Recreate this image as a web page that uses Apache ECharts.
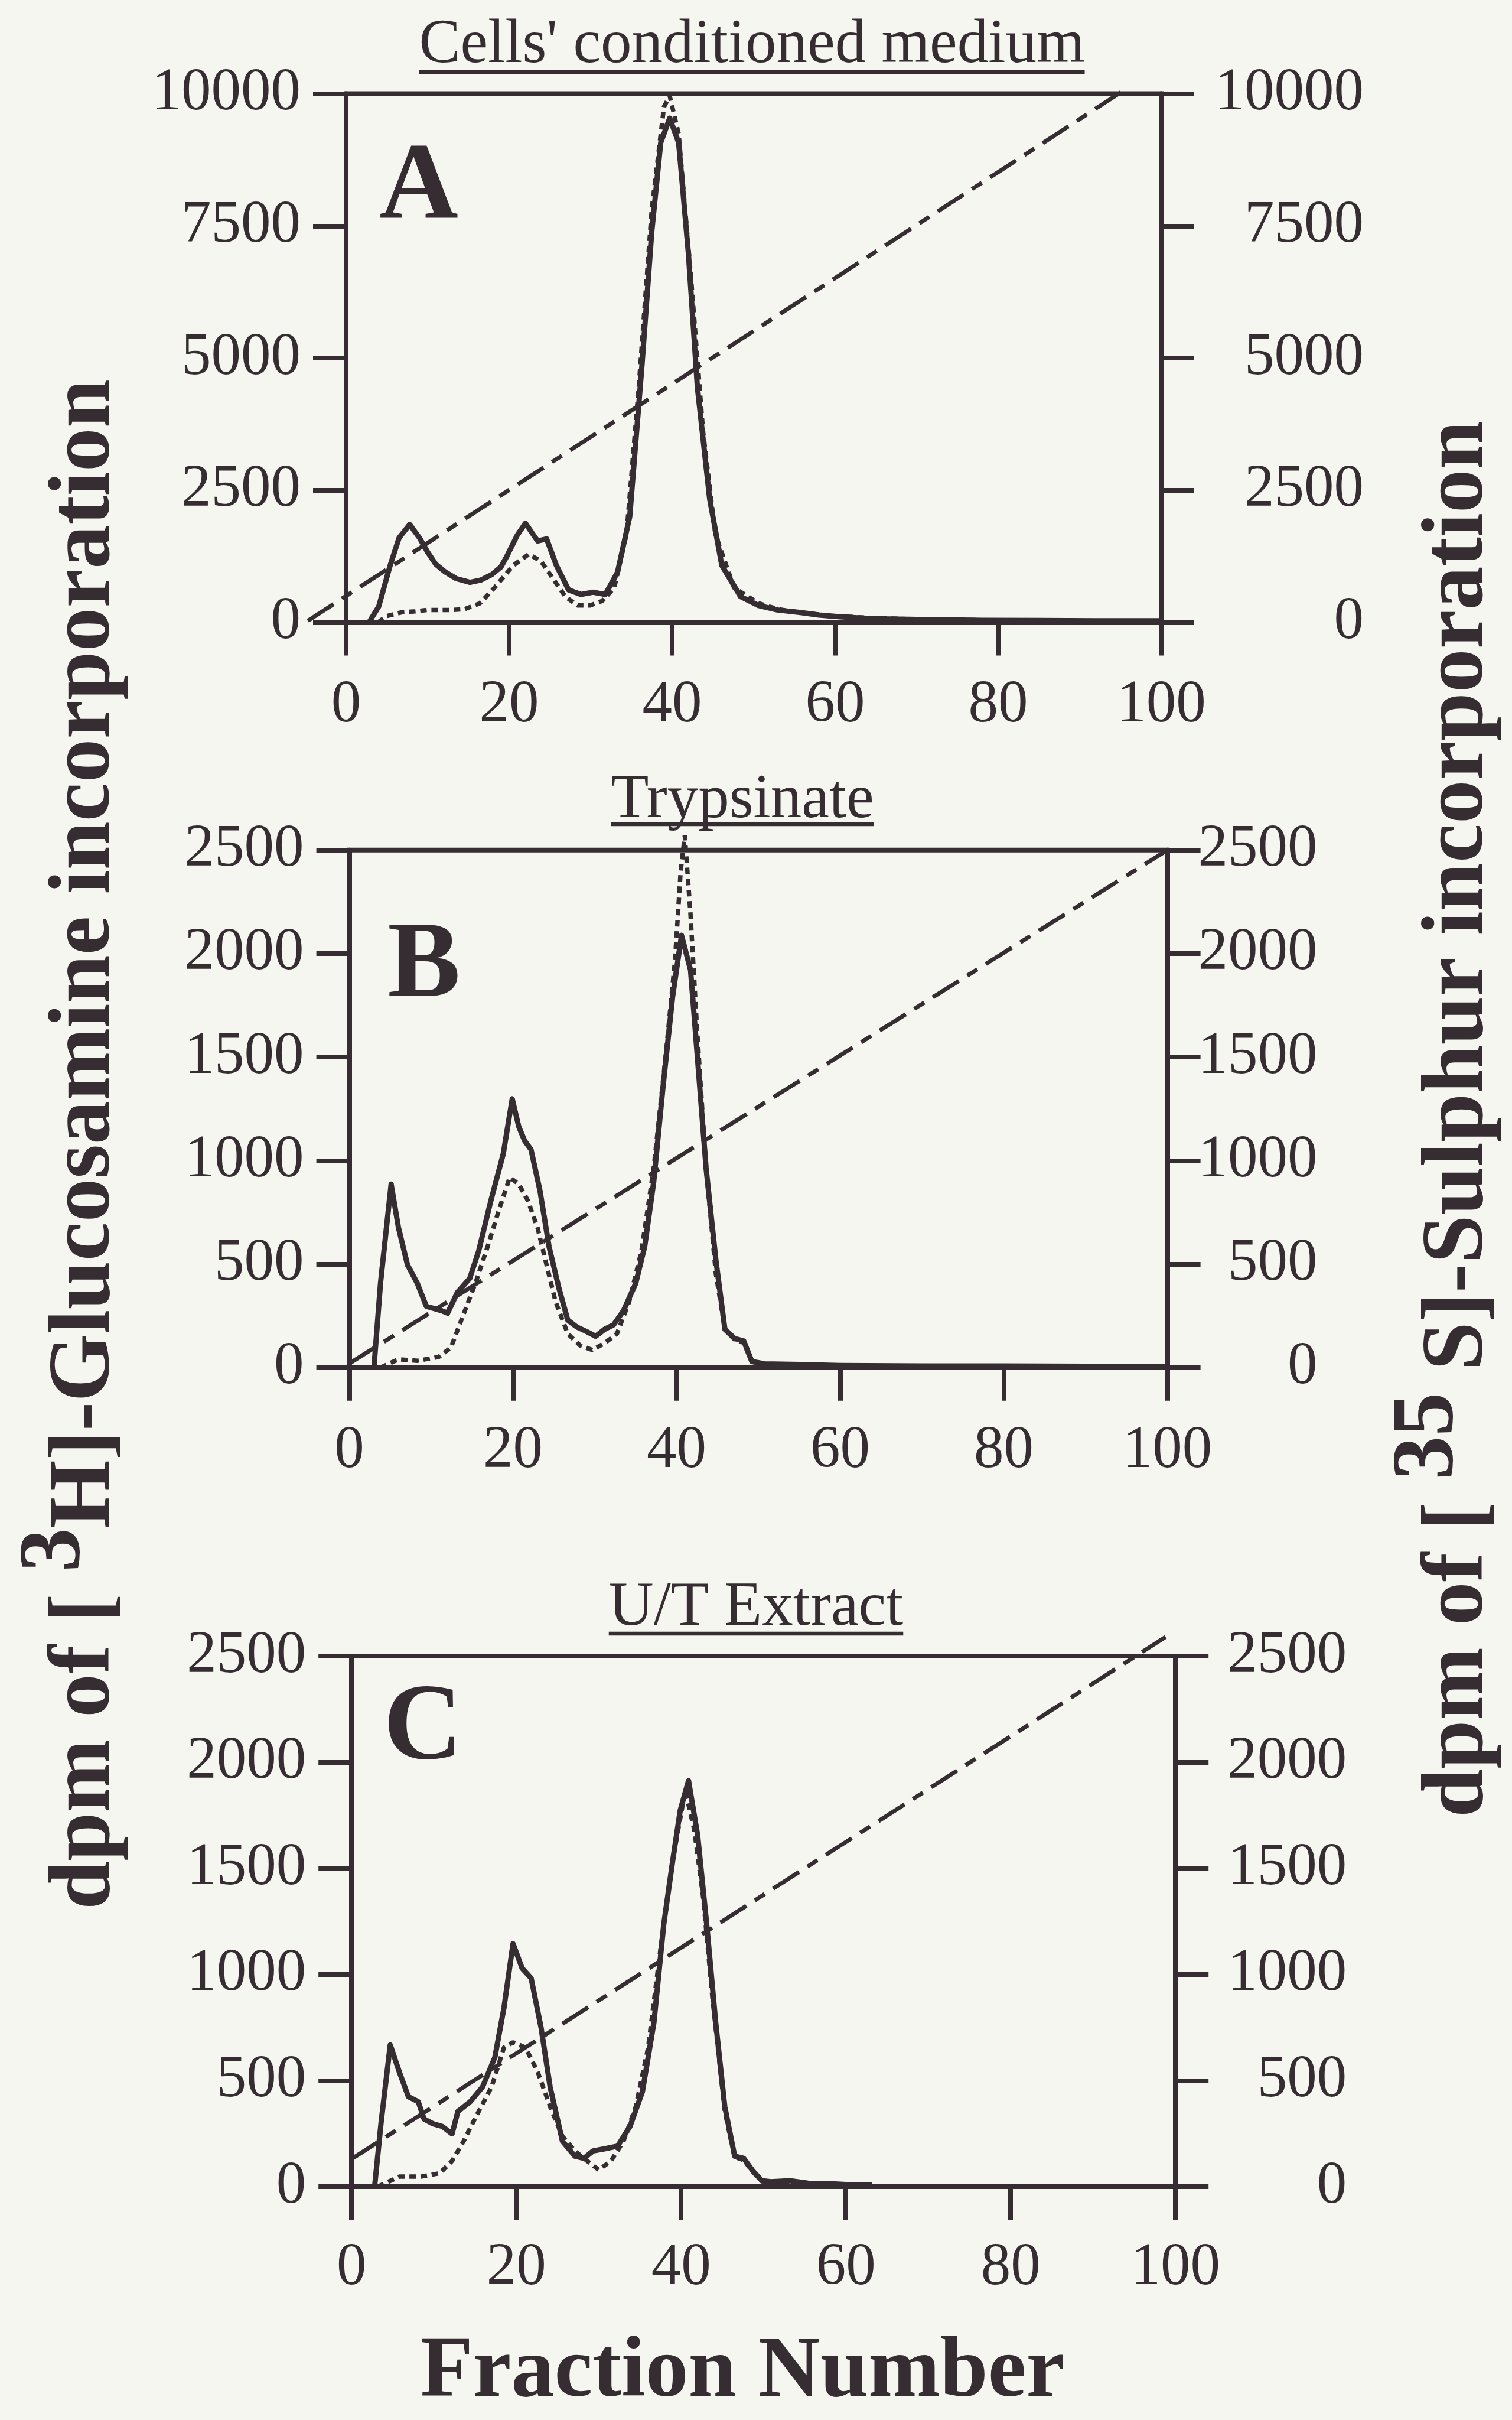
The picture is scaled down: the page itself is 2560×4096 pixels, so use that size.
<!DOCTYPE html>
<html>
<head>
<meta charset="utf-8">
<script src="https://cdn.jsdelivr.net/npm/echarts@6/dist/echarts.min.js"></script>
<style>
html,body{margin:0;padding:0;background:#f6f6f1;}
#chart{width:2560px;height:4096px;}
</style>
</head>
<body>
<div id="chart"></div>
<script>
// ---------------- DATA ----------------
const fractionTicks = [0, 20, 40, 60, 80, 100];
const ticksA = [0, 2500, 5000, 7500, 10000];
const ticksBC = [0, 500, 1000, 1500, 2000, 2500];

const panelTitles = ["Cells' conditioned medium", "Trypsinate", "U/T Extract"];
const panelLetters = ["A", "B", "C"];
const xTitle = "Fraction Number";
const leftTitleParts = [["dpm of [ ", false], ["3", true], ["H]-Glucosamine incorporation", false]];
const rightTitleParts = [["dpm of [ ", false], ["35", true], [" S]-Sulphur incorporation", false]];

// Panel A – Cells' conditioned medium
const aH3Frac = [2.8,4,5.4,6.5,7.8,9,10,11,12.2,13.5,15.2,16.5,17.9,19,19.7,21,22,23,23.5,24.6,25.8,27.3,28.8,30.3,31.8,33.3,34.8,36.3,37.5,38.6,39.7,40.8,42,43.1,44.6,46.1,48.4,50.6,52.9,55.9,58,60.4,63,65.7,70,73.2,78,85,92,100];
const aH3 = [0,300,1077,1600,1852,1600,1330,1100,950,830,758,800,909,1050,1246,1650,1877,1650,1540,1580,1077,614,530,572,530,950,2003,4865,7390,9074,9537,9074,6970,4444,2340,1077,488,320,236,185,140,110,85,67,55,50,40,35,30,30];
const aS35Frac = [3.9,5,6.9,8.5,10,11.5,13,14.5,16.4,18.2,20.5,22.4,23.9,25.4,26.9,28.4,29.9,31.4,32.9,34.4,35.9,37.5,39,39.7,40.8,42.3,43.8,45.3,47.6,50.6,53,56,60,65,72,80,90,100];
const aS35 = [0,120,194,210,236,236,236,250,360,656,1077,1290,1160,825,488,320,320,404,656,1667,4444,7811,9748,9958,9242,6549,3603,1667,656,362,250,180,120,80,50,40,30,30];
const aGradFrac = [-4.7, 95.8];
const aGrad = [30, 10100];

// Panel B – Trypsinate
const bH3Frac = [3,3.8,5.1,6,7.1,8.3,9.4,11.3,12,13.2,14.7,15.8,17.3,18.8,19.9,20.7,21.4,22.2,23.3,24.4,25.6,26.7,27.8,29,30.1,31.2,32.3,33.5,35,36.1,37.2,38.3,39.5,40.6,41.7,42.5,43.6,44.8,45.9,47.1,48.2,49.2,50.8,55,60,70,80,90,100];
const bH3 = [0,407,886,675,496,407,296,274,263,363,430,563,808,1031,1298,1164,1097,1053,853,585,385,229,196,174,151,185,207,274,407,585,897,1342,1788,2088,1921,1520,964,519,185,140,129,29,18,15,10,8,8,6,6];
const bS35Frac = [3.8,6,8.3,10.9,12.4,13.9,15.4,16.9,18.3,19.6,20.7,21.8,23,24.1,25.2,26.7,28.2,29.7,31.2,32.7,34.2,35.7,37.2,38.7,39.8,40.5,41,41.7,42.5,43.6,44.8,45.9,47.1,48.2,49.2,50.8,55,60,70,80,90,100];
const bS35 = [0,40,33,51,96,252,407,585,764,919,886,808,675,496,318,163,107,85,118,163,318,563,964,1520,1966,2400,2570,2188,1632,964,452,185,135,120,29,15,12,8,6,6,5,5];
const bGradFrac = [0, 100];
const bGrad = [20, 2500];

// Panel C – U/T Extract
const cH3Frac = [2.8,3.6,4.7,5.8,6.9,8.1,8.8,9.9,11,12.2,12.9,14.4,15.9,17.4,18.5,19.6,20.7,21.8,23,24.1,25.6,27.1,28.2,29.3,30.8,32.3,33.8,35.3,36.7,37.9,39,39.9,40.9,42,43.1,44.2,45.3,46.5,47.6,48.7,49.8,50.9,53.2,55.4,58,60,63.2];
const cH3 = [0,307,668,540,424,400,319,296,284,249,354,400,470,610,843,1145,1029,982,750,470,214,144,133,168,179,191,284,447,773,1238,1541,1774,1913,1657,1238,773,377,144,133,74,28,23,28,16,14,10,9];
const cS35Frac = [3.2,5.8,8.4,10.7,12.2,13.6,15.1,17,18.5,19.6,21.1,22.6,24.1,25.6,27.1,28.6,30,31.5,33,34.5,36,37.5,39,40.5,41.6,42.7,43.8,45.3,46.5,47.6,48.7,49.8,52,55,60,63.2];
const cS35 = [0,47,47,63,121,214,330,470,656,680,656,540,377,237,168,121,79,121,214,377,656,1122,1541,1867,1681,1355,889,354,140,125,70,25,20,14,9,8];
const cGradFrac = [0, 98.8];
const cGrad = [130, 2590];

// ---------------- LAYOUT / STYLE ----------------
const ink = '#352d31';
const bg = '#f6f6f1';
const serif = 'Liberation Serif';

function zip(xs, ys) { return xs.map((x, i) => [x, ys[i]]); }

const panels = [
  { grid: {left: 586, top: 158.5, width: 1380, height: 895}, ticks: ticksA, rightMargin: 343, xMargin: 90,
    h3: zip(aH3Frac, aH3), s35: zip(aS35Frac, aS35), grad: zip(aGradFrac, aGrad),
    title: {x: 1273, y: 77, ul: 122}, letter: {x: 709, y: 320} },
  { grid: {left: 591.6, top: 1438.7, width: 1385, height: 876}, ticks: ticksBC, rightMargin: 254, xMargin: 91,
    h3: zip(bH3Frac, bH3), s35: zip(bS35Frac, bS35), grad: zip(bGradFrac, bGrad),
    title: {x: 1257, y: 1355, ul: 1395}, letter: {x: 718, y: 1638} },
  { grid: {left: 595.2, top: 2803, width: 1395, height: 898}, ticks: ticksBC, rightMargin: 290, xMargin: 88,
    h3: zip(cH3Frac, cH3), s35: zip(cS35Frac, cS35), grad: zip(cGradFrac, cGrad),
    title: {x: 1280, y: 2722, ul: 2765}, letter: {x: 716, y: 2928} }
];

const axisW = 8, tickLen = 56, labelSize = 101, titleSize = 105;

const grids = [], xAxes = [], yAxes = [], series = [], graphics = [];

const mctx = document.createElement('canvas').getContext('2d');

panels.forEach((p, i) => {
  grids.push(Object.assign({show: true, borderColor: ink, borderWidth: axisW, backgroundColor: 'transparent',
    containLabel: false, outerBoundsMode: 'none'}, p.grid));
  const axisCommon = {
    axisLine: {show: true, onZero: false, lineStyle: {color: ink, width: axisW}},
    axisTick: {show: true, inside: false, length: tickLen, lineStyle: {color: ink, width: axisW}},
    splitLine: {show: false}
  };
  xAxes.push(Object.assign({
    type: 'value', gridIndex: i, position: 'bottom',
    min: fractionTicks[0], max: fractionTicks[fractionTicks.length - 1],
    interval: fractionTicks[1] - fractionTicks[0],
    axisLabel: {margin: p.xMargin, color: ink, fontFamily: serif, fontSize: labelSize, formatter: v => String(v)}
  }, axisCommon));
  const tk = p.ticks;
  const yBase = {type: 'value', gridIndex: i, min: tk[0], max: tk[tk.length - 1], interval: tk[1] - tk[0]};
  yAxes.push(Object.assign({}, yBase, axisCommon, {
    position: 'left',
    axisLabel: {margin: 77, color: ink, fontFamily: serif, fontSize: labelSize, formatter: v => String(v)}
  }));
  yAxes.push(Object.assign({}, yBase, axisCommon, {
    position: 'right',
    axisLabel: {margin: p.rightMargin, align: 'right', color: ink, fontFamily: serif, fontSize: labelSize, formatter: v => String(v)}
  }));

  // dash-dot gradient line (custom series so it may run past the frame)
  const gradPts = p.grad;
  series.push({type: 'custom', xAxisIndex: i, yAxisIndex: 2 * i, data: gradPts, clip: false, silent: true,
    animation: false, z: 2,
    renderItem: function (params, api) {
      if (params.dataIndex !== 0) return null;
      const pts = gradPts.map(d => api.coord(d));
      return {type: 'polyline', shape: {points: pts},
        style: {fill: null, stroke: ink, lineWidth: 7, lineDash: [52, 17, 20, 17], lineCap: 'butt'}};
    }});
  // [3H]-Glucosamine (solid, left axis)
  series.push({type: 'line', xAxisIndex: i, yAxisIndex: 2 * i, data: p.h3, symbol: 'none', showSymbol: false,
    clip: false, silent: true, animation: false, z: 4,
    lineStyle: {color: ink, width: 9, join: 'round'}});
  // [35S]-Sulphur (dotted, right axis)
  series.push({type: 'line', xAxisIndex: i, yAxisIndex: 2 * i + 1, data: p.s35, symbol: 'none', showSymbol: false,
    clip: false, silent: true, animation: false, z: 3,
    lineStyle: {color: ink, width: 7.5, type: [11, 8], cap: 'butt'}});

  // panel title + underline
  const t = panelTitles[i];
  mctx.font = titleSize + 'px "' + serif + '"';
  const tw = mctx.measureText(t).width;
  graphics.push({type: 'text', x: p.title.x, y: p.title.y, silent: true,
    style: {text: t, fill: ink, font: titleSize + 'px "' + serif + '"', align: 'center', verticalAlign: 'middle'}});
  graphics.push({type: 'line', silent: true,
    shape: {x1: p.title.x - tw / 2, y1: p.title.ul, x2: p.title.x + tw / 2, y2: p.title.ul},
    style: {stroke: ink, lineWidth: 6.5}});
  // panel letter
  graphics.push({type: 'text', x: p.letter.x, y: p.letter.y, silent: true,
    style: {text: panelLetters[i], fill: ink, font: 'bold 185px "' + serif + '"', align: 'center', verticalAlign: 'middle'}});
});

// side titles (rotated, reading bottom to top) with raised superscripts
const sideFont = 'bold 148px "' + serif + '"';
function sideTitle(parts, cx, cy) {
  mctx.font = sideFont;
  const widths = parts.map(pt => mctx.measureText(pt[0]).width);
  const total = widths.reduce((a, b) => a + b, 0);
  let y = cy + total / 2;
  parts.forEach((pt, k) => {
    graphics.push({type: 'text', x: pt[1] ? cx - 50 : cx, y: y, rotation: Math.PI / 2, silent: true,
      style: {text: pt[0], fill: ink, font: sideFont, align: 'left', verticalAlign: 'middle'}});
    y -= widths[k];
  });
}
sideTitle(leftTitleParts, 146, 1937);
sideTitle(rightTitleParts, 2471, 1894);

// x title
graphics.push({type: 'text', x: 1257, y: 4017, silent: true,
  style: {text: xTitle, fill: ink, font: 'bold 146px "' + serif + '"', align: 'center', verticalAlign: 'middle'}});

const chart = echarts.init(document.getElementById('chart'), null, {renderer: 'canvas', width: 2560, height: 4096});
chart.setOption({
  backgroundColor: bg,
  animation: false,
  grid: grids,
  xAxis: xAxes,
  yAxis: yAxes,
  series: series,
  graphic: graphics
});
</script>
</body>
</html>
